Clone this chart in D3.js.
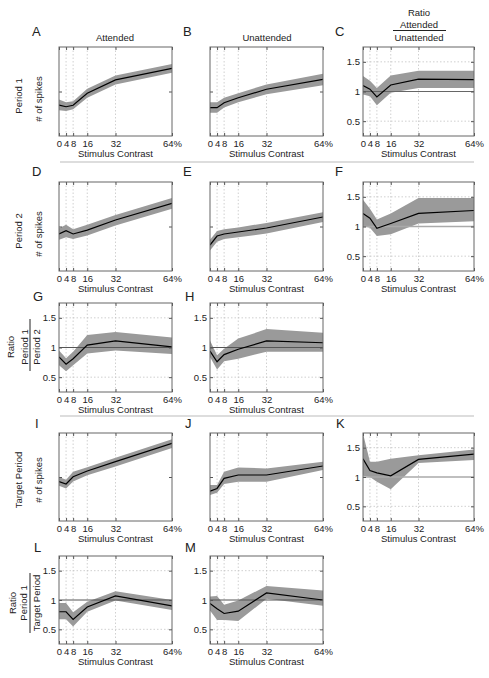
<!DOCTYPE html>
<html><head><meta charset="utf-8">
<script src="https://cdn.jsdelivr.net/npm/d3@7"></script>
<style>body{margin:0;background:#fff}svg{display:block;font-family:"Liberation Sans",Arial,Helvetica,sans-serif}</style>
</head><body><svg id="c" width="489" height="678"></svg>
<script>
// ---- data ----
const contrasts = [0, 4, 8, 16, 32, 64];
const xTickLabels = ["0", "4", "8", "16", "32", "64%"];
const ratioTicks = [0.5, 1, 1.5];
const ratioTickLabels = ["0.5", "1", "1.5"];

// spike-count panels (arbitrary units, 0-100)
const A_mean = [34.8, 32.9, 34.5, 48, 63, 76];
const A_lo   = [29, 28, 30, 43, 58, 71];
const A_hi   = [41, 38, 39, 53, 68, 81];
const B_mean = [31.8, 31.8, 37.4, 43, 52.5, 63.7];
const B_lo   = [26, 26, 32, 38, 47, 57];
const B_hi   = [38, 38, 43, 48, 58, 70];
const D_mean = [41.6, 45.3, 41.6, 46, 57.3, 76];
const D_lo   = [35, 38, 36, 40, 51, 70];
const D_hi   = [48, 52, 47, 52, 63, 82];
const E_mean = [29.2, 39.3, 41.6, 43.8, 48.3, 60.7];
const E_lo   = [23, 33, 36, 38, 42, 55];
const E_hi   = [35, 45, 47, 49, 54, 66];
const I_mean = [44.7, 42, 50.3, 56.8, 67.4, 88.3];
const I_lo   = [40, 37, 45, 52, 62, 83];
const I_hi   = [50, 47, 56, 61, 72, 93];
const J_mean = [34, 37, 48.5, 52.3, 52.3, 62.5];
const J_lo   = [29.5, 32, 42, 44.7, 44.7, 58];
const J_hi   = [41, 41, 55.9, 60.9, 59.8, 67.4];

// ratio panels
const C_mean = [1.10, 1.04, 0.91, 1.11, 1.21, 1.20];
const C_lo   = [0.95, 0.92, 0.77, 0.98, 1.06, 1.06];
const C_hi   = [1.26, 1.18, 1.06, 1.27, 1.35, 1.35];
const F_mean = [1.22, 1.14, 0.97, 1.05, 1.22, 1.27];
const F_lo   = [1.01, 0.98, 0.84, 0.87, 1.05, 1.09];
const F_hi   = [1.45, 1.30, 1.12, 1.22, 1.48, 1.48];
const G_mean = [0.84, 0.72, 0.81, 1.04, 1.11, 1.01];
const G_lo   = [0.70, 0.60, 0.70, 0.90, 0.95, 0.89];
const G_hi   = [0.95, 0.82, 0.93, 1.21, 1.26, 1.17];
const H_mean = [0.94, 0.76, 0.88, 0.97, 1.11, 1.08];
const H_lo   = [0.84, 0.63, 0.77, 0.81, 0.93, 0.93];
const H_hi   = [1.12, 0.87, 0.98, 1.15, 1.31, 1.25];
const K_mean = [1.31, 1.11, 1.07, 1.02, 1.30, 1.39];
const K_lo   = [1.02, 1.00, 0.92, 0.79, 1.24, 1.29];
const K_hi   = [1.74, 1.26, 1.26, 1.31, 1.37, 1.47];
const L_mean = [0.80, 0.80, 0.67, 0.88, 1.07, 0.90];
const L_lo   = [0.67, 0.67, 0.55, 0.80, 0.99, 0.83];
const L_hi   = [0.95, 0.95, 0.79, 0.97, 1.15, 1.00];
const M_mean = [0.94, 0.85, 0.77, 0.81, 1.12, 1.00];
const M_lo   = [0.82, 0.66, 0.66, 0.64, 1.02, 0.90];
const M_hi   = [1.06, 1.07, 0.92, 0.99, 1.24, 1.16];

// ---- layout ----
const svg = d3.select("#c");
const cols = [[59, 172], [210, 323], [363, 474]];
const rows = [[47, 136], [182, 271], [303, 392], [433, 521], [556, 644]];
const FONT = '"Liberation Sans",Arial,Helvetica,sans-serif';
const FS = 9.5;

const panels = [
  {id:"A", r:0, c:0, type:"spk", m:A_mean, lo:A_lo, hi:A_hi, lx:32, ly:31},
  {id:"B", r:0, c:1, type:"spk", m:B_mean, lo:B_lo, hi:B_hi, lx:183, ly:31},
  {id:"C", r:0, c:2, type:"ratio", m:C_mean, lo:C_lo, hi:C_hi, lx:335, ly:31, refCol:"#666", refW:1},
  {id:"D", r:1, c:0, type:"spk", m:D_mean, lo:D_lo, hi:D_hi, lx:32, ly:171},
  {id:"E", r:1, c:1, type:"spk", m:E_mean, lo:E_lo, hi:E_hi, lx:183, ly:171},
  {id:"F", r:1, c:2, type:"ratio", m:F_mean, lo:F_lo, hi:F_hi, lx:335, ly:171, refCol:"#aaa", refW:1.6},
  {id:"G", r:2, c:0, type:"ratio", m:G_mean, lo:G_lo, hi:G_hi, lx:33, ly:296, refCol:"#555", refW:1},
  {id:"H", r:2, c:1, type:"ratio", m:H_mean, lo:H_lo, hi:H_hi, lx:185, ly:296, refCol:"#555", refW:1},
  {id:"I", r:3, c:0, type:"spk", m:I_mean, lo:I_lo, hi:I_hi, lx:35, ly:423},
  {id:"J", r:3, c:1, type:"spk", m:J_mean, lo:J_lo, hi:J_hi, lx:185, ly:423},
  {id:"K", r:3, c:2, type:"ratio", m:K_mean, lo:K_lo, hi:K_hi, lx:336, ly:423, refCol:"#aaa", refW:1.6},
  {id:"L", r:4, c:0, type:"ratio", m:L_mean, lo:L_lo, hi:L_hi, lx:34, ly:547, refCol:"#555", refW:1},
  {id:"M", r:4, c:1, type:"ratio", m:M_mean, lo:M_lo, hi:M_hi, lx:185, ly:547, refCol:"#555", refW:1}
];

panels.forEach(p => {
  const [x0, x1] = cols[p.c], [y0, y1] = rows[p.r];
  const x = d3.scaleLinear().domain([0, 64]).range([x0, x1]);
  const y = p.type === "ratio"
    ? d3.scaleLinear().domain([0.25, 1.75]).range([y1, y0])
    : d3.scaleLinear().domain([0, 100]).range([y1, y0]);
  const g = svg.append("g");
  const clipId = "clip" + p.id;
  g.append("clipPath").attr("id", clipId).append("rect")
    .attr("x", x0).attr("y", y0).attr("width", x1 - x0).attr("height", y1 - y0);

  // grid
  const grid = g.append("g").attr("stroke", "#c4c4c4").attr("stroke-width", 0.8).attr("stroke-dasharray", "1.5,2");
  contrasts.slice(1, -1).forEach(v => grid.append("line").attr("x1", x(v)).attr("x2", x(v)).attr("y1", y0).attr("y2", y1));
  if (p.type === "ratio") {
    [0.5, 1.5].forEach(v => grid.append("line").attr("x1", x0).attr("x2", x1).attr("y1", y(v)).attr("y2", y(v)));
  }

  // band + line
  const data = contrasts.map((c, i) => ({c, m: p.m[i], lo: p.lo[i], hi: p.hi[i]}));
  const inner = g.append("g").attr("clip-path", `url(#${clipId})`);
  inner.append("path").datum(data)
    .attr("d", d3.area().x(d => x(d.c)).y0(d => y(d.lo)).y1(d => y(d.hi)))
    .attr("fill", "#9a9a9a");
  if (p.type === "ratio") {
    inner.append("line").attr("x1", x0).attr("x2", x1).attr("y1", y(1)).attr("y2", y(1))
      .attr("stroke", p.refCol).attr("stroke-width", p.refW);
  }
  inner.append("path").datum(data)
    .attr("d", d3.line().x(d => x(d.c)).y(d => y(d.m)))
    .attr("fill", "none").attr("stroke", "#000").attr("stroke-width", 1.2);

  // axes
  const xb = d3.axisBottom(x).tickValues(contrasts).tickFormat((d, i) => xTickLabels[i]).tickSize(-3).tickPadding(4);
  g.append("g").attr("transform", `translate(0,${y1})`).call(xb);
  g.append("g").attr("transform", `translate(0,${y0})`)
    .call(d3.axisTop(x).tickValues(contrasts).tickFormat("").tickSize(-3));
  let yTicks, yFmt;
  if (p.type === "ratio") { yTicks = ratioTicks; yFmt = (d, i) => ratioTickLabels[i]; }
  else { yTicks = [50]; yFmt = () => ""; }
  g.append("g").attr("transform", `translate(${x0},0)`)
    .call(d3.axisLeft(y).tickValues(yTicks).tickFormat(yFmt).tickSize(-3).tickPadding(3));
  g.append("g").attr("transform", `translate(${x1},0)`)
    .call(d3.axisRight(y).tickValues(yTicks).tickFormat("").tickSize(-3));
  g.selectAll(".domain").attr("stroke", "none");
  g.selectAll(".tick line").attr("stroke", "#555");
  g.selectAll(".tick text").attr("font-family", FONT).attr("font-size", FS).attr("fill", "#222");
  g.append("rect").attr("x", x0).attr("y", y0).attr("width", x1 - x0).attr("height", y1 - y0)
    .attr("fill", "none").attr("stroke", "#666").attr("stroke-width", 1);

  // x label
  g.append("text").attr("x", (x0 + x1) / 2).attr("y", y1 + 21)
    .attr("text-anchor", "middle").attr("font-size", FS).attr("fill", "#222").text("Stimulus Contrast");
  // panel letter
  g.append("text").attr("x", p.lx).attr("y", p.ly + 5).attr("font-size", 13).attr("fill", "#222").text(p.id);
});

// column titles
function htext(xc, yb, t) {
  svg.append("text").attr("x", xc).attr("y", yb).attr("text-anchor", "middle")
    .attr("font-size", FS).attr("fill", "#222").text(t);
}
htext(115, 41, "Attended");
htext(267, 41, "Unattended");
htext(419, 16, "Ratio");
htext(419, 28, "Attended");
svg.append("line").attr("x1", 393).attr("x2", 446).attr("y1", 30.5).attr("y2", 30.5).attr("stroke", "#222");
htext(419, 41, "Unattended");

// separators
[162, 416].forEach(yy => svg.append("line").attr("x1", 60).attr("x2", 474).attr("y1", yy).attr("y2", yy)
  .attr("stroke", "#bbb").attr("stroke-width", 1));

// rotated y labels
function vtext(xc, yc, t) {
  svg.append("text").attr("transform", `translate(${xc},${yc}) rotate(-90)`)
    .attr("text-anchor", "middle").attr("dominant-baseline", "central")
    .attr("font-size", FS).attr("fill", "#222").text(t);
}
vtext(18, 96, "Period 1"); vtext(38, 99, "# of spikes");
vtext(18, 231, "Period 2"); vtext(38, 234, "# of spikes");
vtext(18, 480, "Target Period"); vtext(38, 480, "# of spikes");
vtext(10, 347, "Ratio"); vtext(24, 347, "Period 1"); vtext(36, 347, "Period 2");
svg.append("line").attr("x1", 30).attr("x2", 30).attr("y1", 319).attr("y2", 371).attr("stroke", "#222");
vtext(12, 603, "Ratio"); vtext(23.5, 603, "Period 1"); vtext(36.5, 603, "Target Period");
svg.append("line").attr("x1", 30).attr("x2", 30).attr("y1", 573).attr("y2", 633).attr("stroke", "#222");
</script></body></html>
